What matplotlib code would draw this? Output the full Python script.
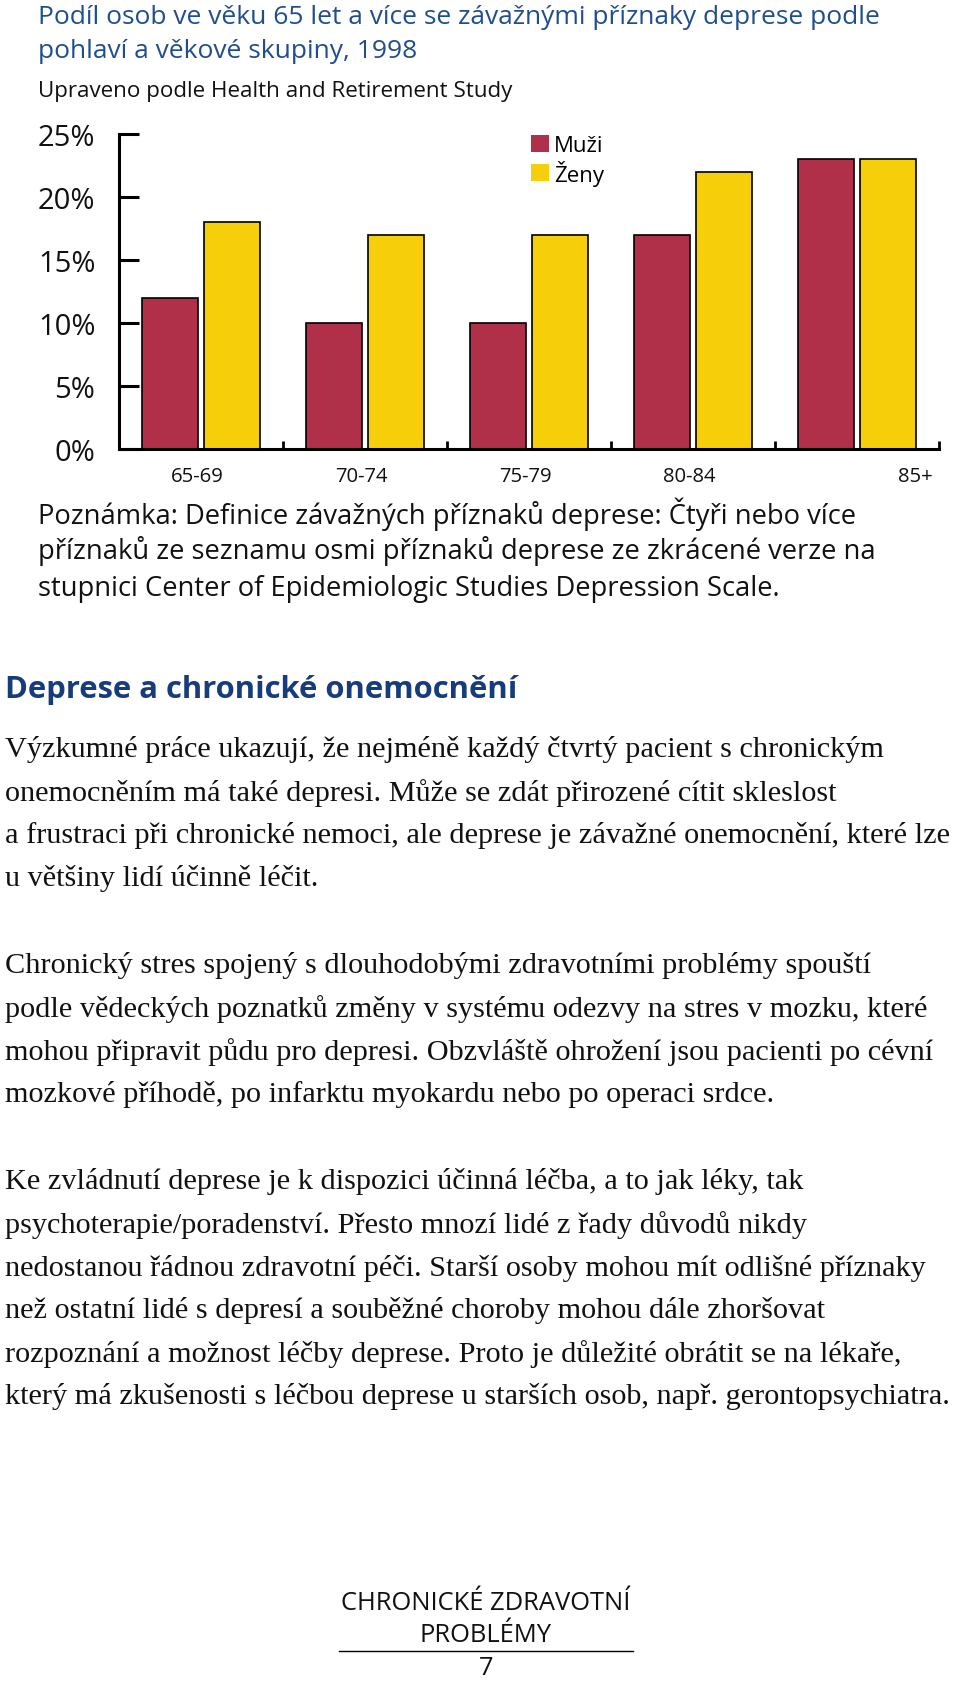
import matplotlib
matplotlib.use('Agg')
import matplotlib.pyplot as plt
import matplotlib.transforms as mtransforms
from matplotlib.patches import Patch
from matplotlib.lines import Line2D
import numpy as np

# ---------------- data ----------------
categories = ['65-69', '70-74', '75-79', '80-84', '85+']
muzi = [12, 10, 10, 17, 23]
zeny = [18, 17, 17, 22, 23]
series_labels = ['Muži', 'Ženy']
ytick_values = [0, 5, 10, 15, 20, 25]
ytick_labels = ['0%', '5%', '10%', '15%', '20%', '25%']

title_lines = ['Podíl osob ve věku 65 let a více se závažnými příznaky deprese podle',
               'pohlaví a věkové skupiny, 1998']
subtitle = 'Upraveno podle Health and Retirement Study'
note_lines = ['Poznámka: Definice závažných příznaků deprese: Čtyři nebo více',
              'příznaků ze seznamu osmi příznaků deprese ze zkrácené verze na',
              'stupnici Center of Epidemiologic Studies Depression Scale.']
heading = 'Deprese a chronické onemocnění'
para1 = ['Výzkumné práce ukazují, že nejméně každý čtvrtý pacient s chronickým',
         'onemocněním má také depresi. Může se zdát přirozené cítit skleslost',
         'a frustraci při chronické nemoci, ale deprese je závažné onemocnění, které lze',
         'u většiny lidí účinně léčit.']
para2 = ['Chronický stres spojený s dlouhodobými zdravotními problémy spouští',
         'podle vědeckých poznatků změny v systému odezvy na stres v mozku, které',
         'mohou připravit půdu pro depresi. Obzvláště ohrožení jsou pacienti po cévní',
         'mozkové příhodě, po infarktu myokardu nebo po operaci srdce.']
para3 = ['Ke zvládnutí deprese je k dispozici účinná léčba, a to jak léky, tak',
         'psychoterapie/poradenství. Přesto mnozí lidé z řady důvodů nikdy',
         'nedostanou řádnou zdravotní péči. Starší osoby mohou mít odlišné příznaky',
         'než ostatní lidé s depresí a souběžné choroby mohou dále zhoršovat',
         'rozpoznání a možnost léčby deprese. Proto je důležité obrátit se na lékaře,',
         'který má zkušenosti s léčbou deprese u starších osob, např. gerontopsychiatra.']
footer_lines = ['CHRONICKÉ ZDRAVOTNÍ', 'PROBLÉMY']
page_number = '7'

# ---------------- style ----------------
RED = '#B0304A'
YEL = '#F6CE0A'
BLUE = '#1F4E8F'
NAVY = '#163C7C'
SANS = ['Open Sans', 'DejaVu Sans']
SERIF = ['Liberation Serif', 'DejaVu Serif']

W, H = 960, 1683
fig = plt.figure(figsize=(W / 100, H / 100), dpi=100)
fig.patch.set_facecolor('white')


def fx(x):
    return x / W


def fy(y):
    return 1 - y / H


# ---------------- chart ----------------
ax = fig.add_axes([fx(119), fy(450), 820 / W, 315 / H])
x = np.arange(len(categories))
bw = 0.34
off = 0.187
ax.bar(x - off, muzi, bw, color=RED, edgecolor='black', linewidth=1.2)
ax.bar(x + off, zeny, bw, color=YEL, edgecolor='black', linewidth=1.2)
ax.set_xlim(-0.5, len(categories) - 0.5)
ax.set_ylim(0, 25)
for s in ['top', 'right']:
    ax.spines[s].set_visible(False)
for s in ['left', 'bottom']:
    ax.spines[s].set_linewidth(2.2)
    ax.spines[s].set_color('black')
ax.set_yticks(ytick_values, ytick_labels)
ax.tick_params(axis='y', direction='in', length=14.4, width=2.2, pad=17,
               labelsize=21, labelcolor='#111111')
for lab in ax.get_yticklabels():
    lab.set_family(SANS)
ax.set_xticks(x, categories)
ax.tick_params(axis='x', which='major', length=0, pad=12, labelsize=14.6,
               labelcolor='#111111')
ax.set_xticks(x + 0.5, minor=True)
ax.tick_params(axis='x', which='minor', direction='in', length=6, width=2)
xl = ax.get_xticklabels()
base_shift = mtransforms.ScaledTranslation(-0.035, 0, fig.dpi_scale_trans)
for lab in xl[:-1]:
    lab.set_family(SANS)
    lab.set_transform(lab.get_transform() + base_shift)
# the last category label sits right of its group in the original
xl[-1].set_family(SANS)
shift = mtransforms.ScaledTranslation(0.58, 0, fig.dpi_scale_trans)
xl[-1].set_transform(xl[-1].get_transform() + shift)

handles = [Patch(facecolor=RED, edgecolor='none'), Patch(facecolor=YEL, edgecolor='none')]
leg = fig.legend(handles, series_labels, loc='upper left',
                 bbox_to_anchor=(fx(531), fy(136)), bbox_transform=fig.transFigure,
                 frameon=False, borderpad=0, borderaxespad=0,
                 handlelength=0.8, handleheight=0.8, handletextpad=0.25,
                 labelspacing=0.15, prop={'family': SANS, 'size': 16})

# ---------------- texts ----------------
fig.text(fx(38), fy(17), title_lines[0], family=SANS, size=19, color=BLUE, va='center')
fig.text(fx(38), fy(51), title_lines[1], family=SANS, size=19, color=BLUE, va='center')
fig.text(fx(38), fy(91), subtitle, family=SANS, size=16.1, color='#111111', va='center')

for i, line in enumerate(note_lines):
    fig.text(fx(38), fy(514 + 37.5 * i), line, family=SANS, size=19.7,
             color='#111111', va='center')

fig.text(fx(5), fy(690), heading, family=SANS, size=22.3, weight='bold',
         color=NAVY, va='center')

for start, para in [(750, para1), (966, para2), (1182, para3)]:
    for i, line in enumerate(para):
        fig.text(fx(5), fy(start + 43 * i), line, family=SERIF, size=21.8,
                 color='#111111', va='center')

fig.text(fx(486), fy(1604), footer_lines[0], family=SANS, size=18.4,
         color='#111111', ha='center', va='center')
fig.text(fx(486), fy(1636), footer_lines[1], family=SANS, size=18.4,
         color='#111111', ha='center', va='center')
fig.add_artist(Line2D([fx(339), fx(633)], [fy(1652), fy(1652)],
                      transform=fig.transFigure, color='black', lw=1))
fig.text(fx(486), fy(1681), page_number, family=SANS, size=18.4,
         color='#111111', ha='center', va='bottom')

fig.savefig('out.png', dpi=100)
